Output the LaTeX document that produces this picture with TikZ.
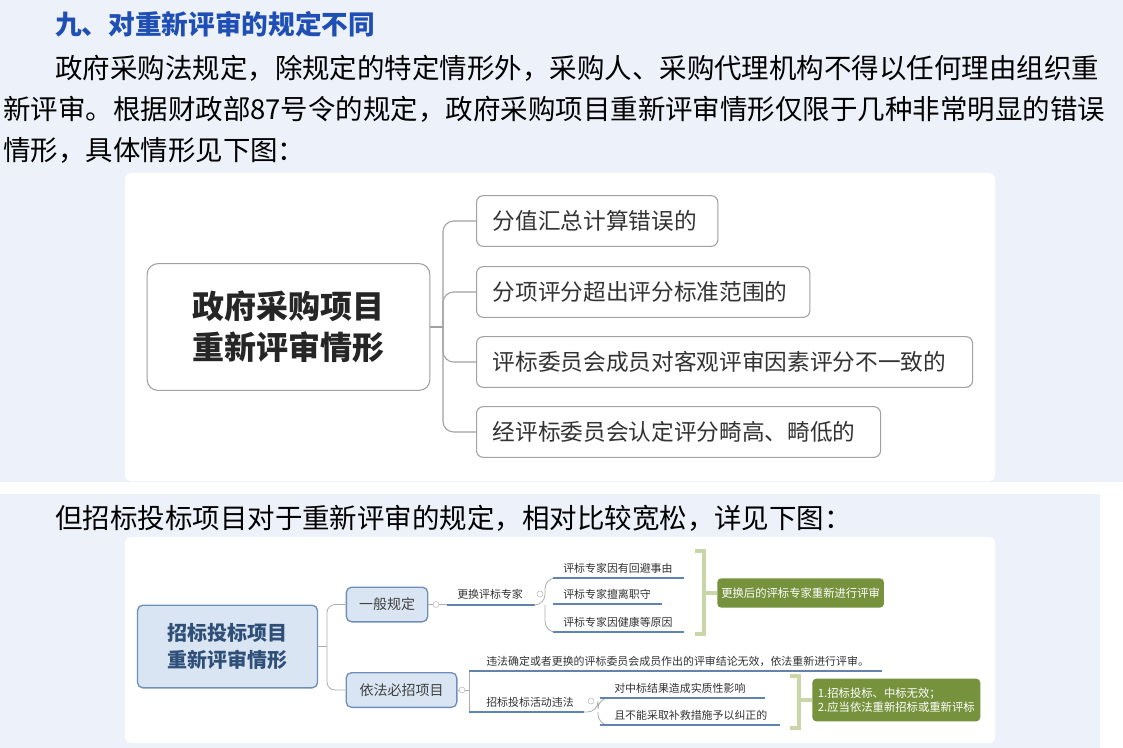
\documentclass[tikz,border=0pt]{standalone}
\usepackage{fontspec}
\setmainfont{Noto Sans CJK SC}
\usetikzlibrary{positioning}
\definecolor{pagebg}{HTML}{EDF2FA}
\definecolor{ttl}{HTML}{1F4FB4}
\definecolor{gline}{HTML}{8A8A8A}
\definecolor{bfill}{HTML}{D9E5F2}
\definecolor{bdraw}{HTML}{6F8FB8}
\definecolor{btxt}{HTML}{2F4F78}
\definecolor{uline}{HTML}{5F84B0}
\definecolor{gbox}{HTML}{76923C}
\definecolor{brk}{HTML}{C9D6A8}
\tikzset{
 para/.style={anchor=west,inner sep=0,font=\fontsize{20.6}{22}\selectfont},
 gbx/.style={draw=gline!80,line width=0.8pt,rounded corners=5pt,fill=white,anchor=west,inner sep=0},
 gtxt/.style={font=\fontsize{17}{19}\selectfont,text=black!80},
 bbx/.style={draw=bdraw,line width=1pt,fill=bfill,rounded corners=4pt,inner sep=0},
 sm/.style={font=\fontsize{8.2}{9}\selectfont,text=black!80,inner sep=0,anchor=south west},
 ul/.style={uline,line width=1.2pt},
 cn/.style={gline!70,line width=0.6pt},
 gn/.style={fill=gbox,rounded corners=3pt,text=white,font=\fontsize{8.5}{10.5}\selectfont\itshape,inner sep=3pt,align=left,anchor=west},
}
\begin{document}
\begin{tikzpicture}[x=0.75pt,y=-0.75pt]
\useasboundingbox (0,0) rectangle (1123,748);
\fill[pagebg] (0,0) rectangle (1123,748);
\fill[white] (0,482) rectangle (1123,494);
\fill[white] (1100,494) rectangle (1123,748);
% texts
\node[para,text=ttl,font=\fontsize{20}{22}\selectfont\bfseries] (title) at (55,24) {九、对重新评审的规定不同};
\node[para] (p1) at (55,68) {政府采购法规定，除规定的特定情形外，采购人、采购代理机构不得以任何理由组织重};
\node[para] (p2) at (3,109) {新评审。根据财政部87号令的规定，政府采购项目重新评审情形仅限于几种非常明显的错误};
\node[para] (p3) at (3,150) {情形，具体情形见下图：};
\node[para] (p4) at (55,518) {但招标投标项目对于重新评审的规定，相对比较宽松，详见下图：};
% top diagram
\fill[white,rounded corners=4pt] (125,173) rectangle (995,481);
\node[draw=gline!80,line width=0.8pt,rounded corners=8pt,fill=white,minimum width=212pt,minimum height=95pt,align=center,font=\fontsize{24}{31}\selectfont\bfseries,text=black!85] (r1) at (288.5,327) {政府采购项目\\重新评审情形};
\node[gbx,minimum width=181pt,minimum height=38pt] (a1) at (476,221) {};
\node[gtxt,anchor=west] at (488,221) {分值汇总计算错误的};
\node[gbx,minimum width=250pt,minimum height=38pt] (a2) at (476,292) {};
\node[gtxt,anchor=west] at (488,292) {分项评分超出评分标准范围的};
\node[gbx,minimum width=372pt,minimum height=38pt] (a3) at (476,362) {};
\node[gtxt,anchor=west] at (488,362) {评标委员会成员对客观评审因素评分不一致的};
\node[gbx,minimum width=303pt,minimum height=38pt] (a4) at (476,432) {};
\node[gtxt,anchor=west] at (488,432) {经评标委员会认定评分畸高、畸低的};
\coordinate (j1) at (443,327);
\draw[gline!80,line width=0.8pt] (r1.east) -- (j1);
\foreach \t in {a1,a2,a3,a4}{\draw[gline!80,line width=0.8pt,rounded corners=8pt] (j1) |- (\t.west);}
% bottom diagram
\fill[white,rounded corners=4pt] (125,537) rectangle (995,743);
\node[bbx,minimum width=135pt,minimum height=62pt,align=center,font=\fontsize{15}{20}\selectfont\bfseries,text=btxt] (r2) at (227.5,646.5) {招标投标项目\\重新评审情形};
\node[bbx,minimum width=61pt,minimum height=26pt,font=\fontsize{10.5}{12}\selectfont,text=black!75] (b1) at (387,604.5) {一般规定};
\node[bbx,minimum width=83pt,minimum height=26pt,font=\fontsize{10.5}{12}\selectfont,text=black!75] (b2) at (401.5,690) {依法必招项目};
\coordinate (j2) at (327,646.5);
\draw[cn] (r2.east) -- (j2);
\draw[cn,rounded corners=6pt] (j2) |- (b1.west);
\draw[cn,rounded corners=6pt] (j2) |- (b2.west);
% branch 1
\draw[cn] (b1.east) -- (447,604.5);
\draw[gline!60,fill=white] (436,604.5) circle (3);
\coordinate (c1l) at (447,605);
\coordinate (c1r) at (535,605);
\draw[ul] (c1l) -- (c1r);
\node[sm] (t1) at (457,600) {更换评标专家};
\draw[gline!60] (540,594) circle (3);
\coordinate (s1) at (553,578); \coordinate (s2) at (553,604); \coordinate (s3) at (553,632);
\draw[cn,rounded corners=8pt] (c1r) -- (545,605) |- (s1);
\draw[cn,rounded corners=8pt] (545,605) |- (s3);
\draw[ul] (s1) -- (684,578);
\draw[ul] (s2) -- (662,604);
\draw[ul] (s3) -- (684,632);
\node[sm] at (563,574) {评标专家因有回避事由};
\node[sm] at (563,600) {评标专家擅离职守};
\node[sm] at (563,628) {评标专家因健康等原因};
\draw[brk,line width=3pt] (695,551) -- (704,551) -- (704,634) -- (695,634);
\draw[brk,line width=3pt] (704,593) -- (717,593);
\node[gn,minimum height=22pt] (g1) at (717,593) {更换后的评标专家重新进行评审};
% branch 2
\draw[cn] (b2.east) -- (469,690);
\draw[gline!60,fill=white] (462,690) circle (3);
\coordinate (d1) at (469,671); \coordinate (d2) at (469,712);
\draw[cn] (d1) -- (d2);
\draw[ul] (d1) -- (882,671);
\node[sm] at (486,667) {违法确定或者更换的评标委员会成员作出的评审结论无效，依法重新进行评审。};
\draw[ul] (d2) -- (584,712);
\node[sm] at (486,708) {招标投标活动违法};
\draw[gline!60] (591,701) circle (3);
\coordinate (e1) at (600,698); \coordinate (e2) at (600,725);
\draw[cn,rounded corners=8pt] (584,712) -- (598,712) |- (e1);
\draw[cn,rounded corners=8pt] (598,712) |- (e2);
\draw[ul] (e1) -- (765,698);
\draw[ul] (e2) -- (780,725);
\node[sm] at (614,694) {对中标结果造成实质性影响};
\node[sm] at (614,721) {且不能采取补救措施予以纠正的};
\draw[brk,line width=3pt] (790,676) -- (799,676) -- (799,728) -- (790,728);
\draw[brk,line width=3pt] (799,700) -- (812,700);
\node[gn,minimum width=126pt,minimum height=32pt] (g2) at (812,700) {1.招标投标、中标无效；\\2.应当依法重新招标或重新评标};
\end{tikzpicture}
\end{document}
